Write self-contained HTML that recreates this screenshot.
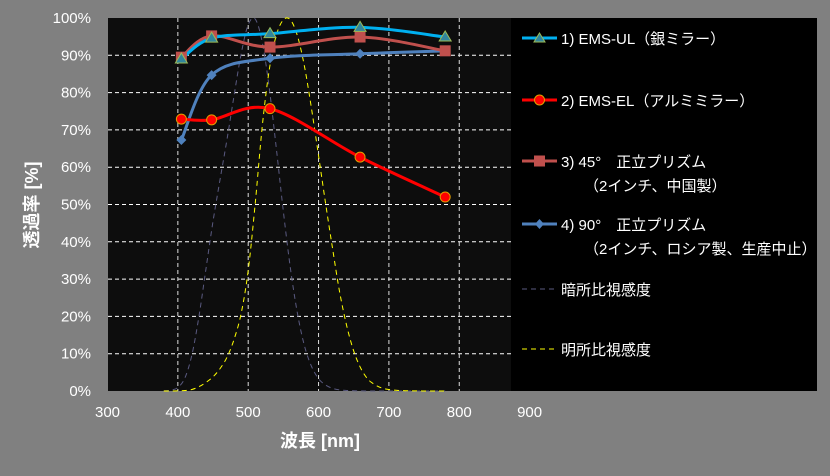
<!DOCTYPE html>
<html><head><meta charset="utf-8">
<style>
html,body{margin:0;padding:0;background:#808080;}
svg{display:block;font-family:"Liberation Sans","Noto Sans CJK JP",sans-serif;}
</style></head>
<body>
<svg id="chart" width="830" height="476" viewBox="0 0 830 476" xmlns="http://www.w3.org/2000/svg">
<rect x="0" y="0" width="830" height="476" fill="#808080"/>
<rect x="108" y="18" width="403" height="373" fill="#0d0d0d"/>
<rect x="511" y="18" width="306" height="373" fill="#000"/>
<g id="grid"></g>
<g id="series"></g>
<g id="axes"></g>
<text x="0" y="0" transform="translate(38,205) rotate(-90)" text-anchor="middle" fill="#fff" font-size="18" font-weight="bold">透過率 [%]</text>
<text x="320" y="447" text-anchor="middle" fill="#fff" font-size="18" font-weight="bold">波長 [nm]</text>
<g id="legend" font-size="15" fill="#fff">
  <g>
    <line x1="522" y1="38" x2="557" y2="38" stroke="#00b0f0" stroke-width="3"/>
    <polygon points="539.5,33 545,42 534,42" fill="#31859c" stroke="#9bbb59" stroke-width="1"/>
    <text x="561" y="44">1) EMS-UL（銀ミラー）</text>
  </g>
  <g>
    <line x1="522" y1="100" x2="557" y2="100" stroke="#ff0000" stroke-width="3"/>
    <circle cx="539.5" cy="100" r="5" fill="#ff0000" stroke="#e0a000" stroke-width="1"/>
    <text x="561" y="106">2) EMS-EL（アルミミラー）</text>
  </g>
  <g>
    <line x1="522" y1="161" x2="557" y2="161" stroke="#c0504d" stroke-width="3"/>
    <rect x="534" y="155.5" width="11" height="11" fill="#c0504d"/>
    <text x="561" y="167">3) 45°　正立プリズム</text>
    <text x="584" y="191">（2インチ、中国製）</text>
  </g>
  <g>
    <line x1="522" y1="224" x2="557" y2="224" stroke="#4f81bd" stroke-width="3"/>
    <polygon points="539.5,219 544,224 539.5,229 535,224" fill="#4f81bd"/>
    <text x="561" y="230">4) 90°　正立プリズム</text>
    <text x="584" y="254">（2インチ、ロシア製、生産中止）</text>
  </g>
  <g>
    <line x1="522" y1="289" x2="557" y2="289" stroke="#5a5a80" stroke-width="1" stroke-dasharray="5,4"/>
    <text x="561" y="295">暗所比視感度</text>
  </g>
  <g>
    <line x1="522" y1="349" x2="557" y2="349" stroke="#ffff00" stroke-width="1" stroke-dasharray="5,4"/>
    <text x="561" y="355">明所比視感度</text>
  </g>
</g>
</svg>
<script>
const xTicks = [300,400,500,600,700,800,900];
const yTicks = [0,10,20,30,40,50,60,70,80,90,100];
const wavelengths = [405,448,531,659,780];
const emsUL = [89,94.6,95.8,97.5,94.9];
const emsEL = [72.9,72.7,75.7,62.7,52];
const prism45 = [89.5,95.2,92.2,94.9,91.2];
const prism90 = [67.3,84.7,89.2,90.4,91.2];
const visWl = [380,390,400,410,420,430,440,450,460,470,480,490,500,510,520,530,540,550,560,570,580,590,600,610,620,630,640,650,660,670,680,690,700,710,720,730,740,750,760,770,780];
const scotopic = [0.06,0.22,0.93,3.5,9.7,20,32.8,45.5,56.7,67.6,79.3,90.4,98.2,99.7,93.5,81.1,65,48.1,32.9,20.8,12.1,6.6,3.3,1.6,0.7,0.3,0.15,0.07,0.03,0.01,0,0,0,0,0,0,0,0,0,0,0];
const photopic = [0,0.01,0.04,0.12,0.4,1.16,2.3,3.8,6,9.1,13.9,20.8,32.3,50.3,71,86.2,95.4,99.5,99.5,95.2,87,75.7,63.1,50.3,38.1,26.5,17.5,10.7,6.1,3.2,1.7,0.8,0.4,0.2,0.1,0.05,0.03,0.01,0.01,0,0];

const NS="http://www.w3.org/2000/svg";
const X0=107.5, XS=0.7035, Y0=391, YS=3.73;
function xs(v){return X0+(v-300)*XS;}
function ys(v){return Y0-v*YS;}
function mk(tag,attrs,parent){const e=document.createElementNS(NS,tag);for(const k in attrs)e.setAttribute(k,attrs[k]);parent.appendChild(e);return e;}
const grid=document.getElementById('grid'), axes=document.getElementById('axes'), ser=document.getElementById('series');

yTicks.forEach(t=>{
  if(t>0 && t<100){
    const l=mk('line',{x1:108,x2:511,y1:ys(t),y2:ys(t),stroke:'#fff','stroke-width':1,'stroke-dasharray':'4,3'},grid);
    
    
  }
  const tx=mk('text',{x:91,y:ys(t)+5,'text-anchor':'end',fill:'#fff','font-size':15},axes);
  tx.textContent=t+'%';
  
  
});
xTicks.forEach(t=>{
  if(t>300 && xs(t)<511){
    const l=mk('line',{x1:xs(t),x2:xs(t),y1:18,y2:391,stroke:'#ddd','stroke-width':1,'stroke-dasharray':'4,3'},grid);
    
    
  }
  const tx=mk('text',{x:xs(t),y:417,'text-anchor':'middle',fill:'#fff','font-size':15},axes);
  tx.textContent=t;
  
  
});

function smoothPath(px,py){
  let d='M'+px[0]+','+py[0];
  for(let i=0;i<px.length-1;i++){
    const x0=px[Math.max(i-1,0)],y0=py[Math.max(i-1,0)],x1=px[i],y1=py[i],x2=px[i+1],y2=py[i+1],x3=px[Math.min(i+2,px.length-1)],y3=py[Math.min(i+2,px.length-1)];
    const t=1/6;
    d+=' C'+(x1+(x2-x0)*t)+','+(y1+(y2-y0)*t)+' '+(x2-(x3-x1)*t)+','+(y2-(y3-y1)*t)+' '+x2+','+y2;
  }
  return d;
}
function line(wl,vals,name,stroke,width,dash){
  const px=wl.map(xs), py=vals.map(ys);
  const p=mk('path',{d:smoothPath(px,py),fill:'none',stroke:stroke,'stroke-width':width},ser);
  if(dash)p.setAttribute('stroke-dasharray',dash);
  
  
  return {px,py};
}
line(visWl,scotopic,'scotopic-line','#5a5a80',1,'5,4');
line(visWl,photopic,'photopic-line','#ffff00',1,'5,4');

function markers(pts,kind,name){
  pts.px.forEach((x,i)=>{
    const y=pts.py[i]; let m;
    if(kind==='tri') m=mk('polygon',{points:`${x},${y-6} ${x+6},${y+4} ${x-6},${y+4}`,fill:'#31859c',stroke:'#9bbb59','stroke-width':1},ser);
    else if(kind==='circ') m=mk('circle',{cx:x,cy:y,r:5,fill:'#ff0000',stroke:'#e0a000','stroke-width':1},ser);
    else if(kind==='sq') m=mk('rect',{x:x-5.5,y:y-5.5,width:11,height:11,fill:'#c0504d'},ser);
    else m=mk('polygon',{points:`${x},${y-5} ${x+5},${y} ${x},${y+5} ${x-5},${y}`,fill:'#4f81bd'},ser);
    
    
  });
}
const p90=line(wavelengths,prism90,'prism90-line','#4f81bd',3);
const p45=line(wavelengths,prism45,'prism45-line','#c0504d',3);
const pel=line(wavelengths,emsEL,'ems-el-line','#ff0000',3);
const pul=line(wavelengths,emsUL,'ems-ul-line','#00b0f0',3);
markers(p90,'dia','prism90-point');
markers(p45,'sq','prism45-point');
markers(pel,'circ','ems-el-point');
markers(pul,'tri','ems-ul-point');
</script>
</body></html>
